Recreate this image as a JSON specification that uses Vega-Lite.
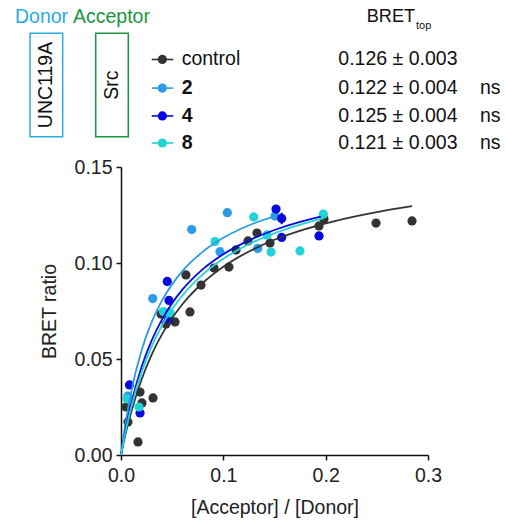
{
  "$schema": "https://vega.github.io/schema/vega-lite/v6.json",
  "width": 307,
  "height": 288,
  "autosize": {"type": "none"},
  "padding": {"left": 121, "top": 167, "right": 78, "bottom": 66},
  "config": {
    "font": "Liberation Sans",
    "view": {"stroke": null},
    "axis": {
      "grid": false,
      "labelFlush": false,
      "domainColor": "#111111",
      "domainWidth": 1.5,
      "tickColor": "#111111",
      "tickWidth": 1.5,
      "tickSize": 5,
      "labelFont": "Liberation Sans",
      "labelFontSize": 19.5,
      "labelColor": "#222222",
      "titleFont": "Liberation Sans",
      "titleFontSize": 19.5,
      "titleFontWeight": "normal",
      "titleColor": "#222222"
    }
  },
  "datasets": {
    "points": [
      {"series": "control", "x": 0.0049, "y": 0.0250},
      {"series": "control", "x": 0.0186, "y": 0.0328},
      {"series": "control", "x": 0.0205, "y": 0.0271},
      {"series": "control", "x": 0.0313, "y": 0.0297},
      {"series": "control", "x": 0.0068, "y": 0.0172},
      {"series": "control", "x": 0.0166, "y": 0.0068},
      {"series": "control", "x": 0.0391, "y": 0.0734},
      {"series": "control", "x": 0.0440, "y": 0.0682},
      {"series": "control", "x": 0.0528, "y": 0.0693},
      {"series": "control", "x": 0.0674, "y": 0.0745, "xlo": 0.0655, "xhi": 0.0693, "ylo": 0.0725, "yhi": 0.0765},
      {"series": "control", "x": 0.0635, "y": 0.0938},
      {"series": "control", "x": 0.0782, "y": 0.0885},
      {"series": "control", "x": 0.0909, "y": 0.0974},
      {"series": "control", "x": 0.1055, "y": 0.0979},
      {"series": "control", "x": 0.1124, "y": 0.1068, "xlo": 0.1110, "xhi": 0.1138, "ylo": 0.1056, "yhi": 0.1080},
      {"series": "control", "x": 0.1241, "y": 0.1115},
      {"series": "control", "x": 0.1329, "y": 0.1156},
      {"series": "control", "x": 0.1456, "y": 0.1104},
      {"series": "control", "x": 0.1935, "y": 0.1193},
      {"series": "control", "x": 0.1984, "y": 0.1229},
      {"series": "control", "x": 0.2492, "y": 0.1208},
      {"series": "control", "x": 0.2844, "y": 0.1219},
      {"series": "2", "x": 0.0068, "y": 0.0307},
      {"series": "2", "x": 0.0310, "y": 0.0815, "xlo": 0.0290, "xhi": 0.0330, "ylo": 0.0800, "yhi": 0.0830},
      {"series": "2", "x": 0.0691, "y": 0.1174, "xlo": 0.0671, "xhi": 0.0711, "ylo": 0.1159, "yhi": 0.1189},
      {"series": "2", "x": 0.0967, "y": 0.1059},
      {"series": "2", "x": 0.1039, "y": 0.1262},
      {"series": "2", "x": 0.1336, "y": 0.1076},
      {"series": "2", "x": 0.1505, "y": 0.1245},
      {"series": "4", "x": 0.0083, "y": 0.0365},
      {"series": "4", "x": 0.0186, "y": 0.0219},
      {"series": "4", "x": 0.0452, "y": 0.0904},
      {"series": "4", "x": 0.0469, "y": 0.0805},
      {"series": "4", "x": 0.0464, "y": 0.0706},
      {"series": "4", "x": 0.1515, "y": 0.1281},
      {"series": "4", "x": 0.1570, "y": 0.1232, "xlo": 0.1540, "xhi": 0.1600, "ylo": 0.1202, "yhi": 0.1262},
      {"series": "4", "x": 0.1570, "y": 0.1133},
      {"series": "4", "x": 0.1935, "y": 0.1141},
      {"series": "8", "x": 0.0059, "y": 0.0292},
      {"series": "8", "x": 0.0176, "y": 0.0250},
      {"series": "8", "x": 0.0415, "y": 0.0747},
      {"series": "8", "x": 0.0479, "y": 0.0740},
      {"series": "8", "x": 0.0919, "y": 0.1112},
      {"series": "8", "x": 0.1297, "y": 0.1240},
      {"series": "8", "x": 0.1427, "y": 0.1146},
      {"series": "8", "x": 0.1466, "y": 0.1057},
      {"series": "8", "x": 0.1749, "y": 0.1063},
      {"series": "8", "x": 0.1977, "y": 0.1255}
    ],
    "curves": [
      {"series": "control", "x": 0, "y": 0},
      {"series": "control", "x": 0.005, "y": 0.0121},
      {"series": "control", "x": 0.01, "y": 0.0224},
      {"series": "control", "x": 0.02, "y": 0.0392},
      {"series": "control", "x": 0.03, "y": 0.0523},
      {"series": "control", "x": 0.04, "y": 0.0628},
      {"series": "control", "x": 0.05, "y": 0.0713},
      {"series": "control", "x": 0.06, "y": 0.0785},
      {"series": "control", "x": 0.08, "y": 0.0897},
      {"series": "control", "x": 0.1, "y": 0.0981},
      {"series": "control", "x": 0.12, "y": 0.1046},
      {"series": "control", "x": 0.15, "y": 0.1121},
      {"series": "control", "x": 0.18, "y": 0.1177},
      {"series": "control", "x": 0.21, "y": 0.1220},
      {"series": "control", "x": 0.25, "y": 0.1265},
      {"series": "control", "x": 0.2844, "y": 0.1296},
      {"series": "2", "x": 0, "y": 0},
      {"series": "2", "x": 0.005, "y": 0.0184},
      {"series": "2", "x": 0.01, "y": 0.0329},
      {"series": "2", "x": 0.02, "y": 0.0543},
      {"series": "2", "x": 0.03, "y": 0.0693},
      {"series": "2", "x": 0.04, "y": 0.0804},
      {"series": "2", "x": 0.05, "y": 0.0890},
      {"series": "2", "x": 0.06, "y": 0.0958},
      {"series": "2", "x": 0.08, "y": 0.1059},
      {"series": "2", "x": 0.1, "y": 0.1131},
      {"series": "2", "x": 0.12, "y": 0.1185},
      {"series": "2", "x": 0.1505, "y": 0.1244},
      {"series": "4", "x": 0, "y": 0},
      {"series": "4", "x": 0.005, "y": 0.0147},
      {"series": "4", "x": 0.01, "y": 0.0268},
      {"series": "4", "x": 0.02, "y": 0.0457},
      {"series": "4", "x": 0.03, "y": 0.0597},
      {"series": "4", "x": 0.04, "y": 0.0705},
      {"series": "4", "x": 0.05, "y": 0.0791},
      {"series": "4", "x": 0.06, "y": 0.0861},
      {"series": "4", "x": 0.08, "y": 0.0968},
      {"series": "4", "x": 0.1, "y": 0.1046},
      {"series": "4", "x": 0.12, "y": 0.1105},
      {"series": "4", "x": 0.15, "y": 0.1172},
      {"series": "4", "x": 0.175, "y": 0.1214},
      {"series": "4", "x": 0.1952, "y": 0.1241},
      {"series": "8", "x": 0, "y": 0},
      {"series": "8", "x": 0.005, "y": 0.0135},
      {"series": "8", "x": 0.01, "y": 0.0249},
      {"series": "8", "x": 0.02, "y": 0.0429},
      {"series": "8", "x": 0.03, "y": 0.0566},
      {"series": "8", "x": 0.04, "y": 0.0674},
      {"series": "8", "x": 0.05, "y": 0.0760},
      {"series": "8", "x": 0.06, "y": 0.0831},
      {"series": "8", "x": 0.08, "y": 0.0941},
      {"series": "8", "x": 0.1, "y": 0.1022},
      {"series": "8", "x": 0.12, "y": 0.1085},
      {"series": "8", "x": 0.15, "y": 0.1155},
      {"series": "8", "x": 0.175, "y": 0.1200},
      {"series": "8", "x": 0.1977, "y": 0.1232}
    ],
    "legendrows": [
      {"series": "control", "label": "control", "top": "0.126 ± 0.003", "sig": ""},
      {"series": "2", "label": "2", "top": "0.122 ± 0.004", "sig": "ns"},
      {"series": "4", "label": "4", "top": "0.125 ± 0.004", "sig": "ns"},
      {"series": "8", "label": "8", "top": "0.121 ± 0.003", "sig": "ns"}
    ]
  },
  "layer": [
    {
      "data": {"name": "points"},
      "transform": [{"filter": "isValid(datum.ylo)"}],
      "mark": {"type": "rule", "strokeWidth": 2},
      "encoding": {
        "x": {"field": "x", "type": "quantitative"},
        "y": {"field": "ylo", "type": "quantitative"},
        "y2": {"field": "yhi"},
        "color": {"field": "series", "type": "nominal", "legend": null,
          "scale": {"domain": ["control", "2", "4", "8"], "range": ["#333333", "#2a9be6", "#0707e0", "#22d3d6"]}}
      }
    },
    {
      "data": {"name": "points"},
      "transform": [{"filter": "isValid(datum.xlo)"}],
      "mark": {"type": "rule", "strokeWidth": 2},
      "encoding": {
        "x": {"field": "xlo", "type": "quantitative"},
        "x2": {"field": "xhi"},
        "y": {"field": "y", "type": "quantitative"},
        "color": {"field": "series", "type": "nominal", "legend": null}
      }
    },
    {
      "data": {"name": "points"},
      "mark": {"type": "circle", "size": 85, "opacity": 1},
      "encoding": {
        "x": {"field": "x", "type": "quantitative",
          "scale": {"domain": [0, 0.3], "nice": false},
          "axis": {"values": [0, 0.1, 0.2, 0.3], "format": ".1f", "title": "[Acceptor] / [Donor]", "labelPadding": 6, "titlePadding": 14}},
        "y": {"field": "y", "type": "quantitative",
          "scale": {"domain": [0, 0.15], "nice": false},
          "axis": {"values": [0, 0.05, 0.1, 0.15], "format": ".2f", "title": "BRET ratio", "labelPadding": 4, "titlePadding": 15}},
        "color": {"field": "series", "type": "nominal", "legend": null}
      }
    },
    {
      "data": {"name": "curves"},
      "mark": {"type": "line", "strokeWidth": 1.8, "interpolate": "monotone"},
      "encoding": {
        "x": {"field": "x", "type": "quantitative"},
        "y": {"field": "y", "type": "quantitative"},
        "color": {"field": "series", "type": "nominal", "legend": null},
        "order": {"field": "x", "type": "quantitative"}
      }
    },
    {
      "data": {"name": "legendrows"},
      "transform": [{"filter": "datum.series === 'control'"}],
      "encoding": {"y": {"datum": 0.2060}, "color": {"field": "series", "type": "nominal", "legend": null}},
      "layer": [
        {"mark": {"type": "rule", "strokeWidth": 1.6}, "encoding": {"x": {"datum": 0.030}, "x2": {"datum": 0.0511}}},
        {"mark": {"type": "circle", "size": 85, "opacity": 1}, "encoding": {"x": {"datum": 0.0404}}},
        {"mark": {"type": "text", "align": "left", "baseline": "middle", "fontSize": 19.5}, "encoding": {"x": {"datum": 0.0593}, "text": {"field": "label"}, "color": {"value": "#111111"}}},
        {"mark": {"type": "text", "align": "left", "baseline": "middle", "fontSize": 19.5}, "encoding": {"x": {"datum": 0.2124}, "text": {"field": "top"}, "color": {"value": "#111111"}}},
        {"mark": {"type": "text", "align": "left", "baseline": "middle", "fontSize": 19.5}, "encoding": {"x": {"datum": 0.3508}, "text": {"field": "sig"}, "color": {"value": "#111111"}}}
      ]
    },
    {
      "data": {"name": "legendrows"},
      "transform": [{"filter": "datum.series === '2'"}],
      "encoding": {"y": {"datum": 0.1911}, "color": {"field": "series", "type": "nominal", "legend": null}},
      "layer": [
        {"mark": {"type": "rule", "strokeWidth": 1.6}, "encoding": {"x": {"datum": 0.030}, "x2": {"datum": 0.0511}}},
        {"mark": {"type": "circle", "size": 85, "opacity": 1}, "encoding": {"x": {"datum": 0.0404}}},
        {"mark": {"type": "text", "align": "left", "baseline": "middle", "fontSize": 19.5, "fontWeight": "bold"}, "encoding": {"x": {"datum": 0.0593}, "text": {"field": "label"}, "color": {"value": "#111111"}}},
        {"mark": {"type": "text", "align": "left", "baseline": "middle", "fontSize": 19.5}, "encoding": {"x": {"datum": 0.2124}, "text": {"field": "top"}, "color": {"value": "#111111"}}},
        {"mark": {"type": "text", "align": "left", "baseline": "middle", "fontSize": 19.5}, "encoding": {"x": {"datum": 0.3508}, "text": {"field": "sig"}, "color": {"value": "#111111"}}}
      ]
    },
    {
      "data": {"name": "legendrows"},
      "transform": [{"filter": "datum.series === '4'"}],
      "encoding": {"y": {"datum": 0.1766}, "color": {"field": "series", "type": "nominal", "legend": null}},
      "layer": [
        {"mark": {"type": "rule", "strokeWidth": 1.6}, "encoding": {"x": {"datum": 0.030}, "x2": {"datum": 0.0511}}},
        {"mark": {"type": "circle", "size": 85, "opacity": 1}, "encoding": {"x": {"datum": 0.0404}}},
        {"mark": {"type": "text", "align": "left", "baseline": "middle", "fontSize": 19.5, "fontWeight": "bold"}, "encoding": {"x": {"datum": 0.0593}, "text": {"field": "label"}, "color": {"value": "#111111"}}},
        {"mark": {"type": "text", "align": "left", "baseline": "middle", "fontSize": 19.5}, "encoding": {"x": {"datum": 0.2124}, "text": {"field": "top"}, "color": {"value": "#111111"}}},
        {"mark": {"type": "text", "align": "left", "baseline": "middle", "fontSize": 19.5}, "encoding": {"x": {"datum": 0.3508}, "text": {"field": "sig"}, "color": {"value": "#111111"}}}
      ]
    },
    {
      "data": {"name": "legendrows"},
      "transform": [{"filter": "datum.series === '8'"}],
      "encoding": {"y": {"datum": 0.1625}, "color": {"field": "series", "type": "nominal", "legend": null}},
      "layer": [
        {"mark": {"type": "rule", "strokeWidth": 1.6}, "encoding": {"x": {"datum": 0.030}, "x2": {"datum": 0.0511}}},
        {"mark": {"type": "circle", "size": 85, "opacity": 1}, "encoding": {"x": {"datum": 0.0404}}},
        {"mark": {"type": "text", "align": "left", "baseline": "middle", "fontSize": 19.5, "fontWeight": "bold"}, "encoding": {"x": {"datum": 0.0593}, "text": {"field": "label"}, "color": {"value": "#111111"}}},
        {"mark": {"type": "text", "align": "left", "baseline": "middle", "fontSize": 19.5}, "encoding": {"x": {"datum": 0.2124}, "text": {"field": "top"}, "color": {"value": "#111111"}}},
        {"mark": {"type": "text", "align": "left", "baseline": "middle", "fontSize": 19.5}, "encoding": {"x": {"datum": 0.3508}, "text": {"field": "sig"}, "color": {"value": "#111111"}}}
      ]
    },
    {
      "data": {"values": [{"t": "Donor"}]},
      "mark": {"type": "text", "align": "left", "baseline": "middle", "fontSize": 19.5, "color": "#29abe2"},
      "encoding": {"x": {"datum": -0.1036}, "y": {"datum": 0.2281}, "text": {"field": "t"}}
    },
    {
      "data": {"values": [{"t": "Acceptor"}]},
      "mark": {"type": "text", "align": "left", "baseline": "middle", "fontSize": 19.5, "color": "#1a9641"},
      "encoding": {"x": {"datum": -0.0469}, "y": {"datum": 0.2281}, "text": {"field": "t"}}
    },
    {
      "data": {"values": [{"t": "BRET"}]},
      "mark": {"type": "text", "align": "left", "baseline": "middle", "fontSize": 18.2, "color": "#111111"},
      "encoding": {"x": {"datum": 0.2401}, "y": {"datum": 0.2281}, "text": {"field": "t"}}
    },
    {
      "data": {"values": [{"t": "top"}]},
      "mark": {"type": "text", "align": "left", "baseline": "middle", "fontSize": 11, "color": "#111111"},
      "encoding": {"x": {"datum": 0.2883}, "y": {"datum": 0.2236}, "text": {"field": "t"}}
    },
    {
      "data": {"values": [{"t": "UNC119A"}]},
      "mark": {"type": "rect", "fill": null, "stroke": "#29abe2", "strokeWidth": 1.5},
      "encoding": {"x": {"datum": -0.0889}, "x2": {"datum": -0.0570}, "y": {"datum": 0.2196}, "y2": {"datum": 0.1658}}
    },
    {
      "data": {"values": [{"t": "UNC119A"}]},
      "mark": {"type": "text", "align": "center", "baseline": "middle", "angle": 270, "fontSize": 19.5, "color": "#111111"},
      "encoding": {"x": {"datum": -0.0730}, "y": {"datum": 0.1927}, "text": {"field": "t"}}
    },
    {
      "data": {"values": [{"t": "Src"}]},
      "mark": {"type": "rect", "fill": null, "stroke": "#1a9641", "strokeWidth": 1.5},
      "encoding": {"x": {"datum": -0.0247}, "x2": {"datum": 0.0071}, "y": {"datum": 0.2196}, "y2": {"datum": 0.1658}}
    },
    {
      "data": {"values": [{"t": "Src"}]},
      "mark": {"type": "text", "align": "center", "baseline": "middle", "angle": 270, "fontSize": 19.5, "color": "#111111"},
      "encoding": {"x": {"datum": -0.0088}, "y": {"datum": 0.1927}, "text": {"field": "t"}}
    }
  ]
}
